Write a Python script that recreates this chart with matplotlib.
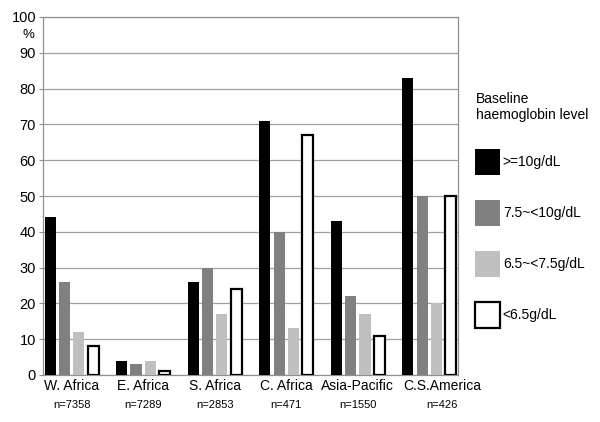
import numpy as np
import matplotlib.pyplot as plt
from matplotlib.transforms import blended_transform_factory

plt.rcParams['font.family'] = ['Liberation Sans', 'DejaVu Sans']

regions = ['W. Africa', 'E. Africa', 'S. Africa', 'C. Africa', 'Asia-Pacific', 'C.S.America']
sample_sizes = ['n=7358', 'n=7289', 'n=2853', 'n=471', 'n=1550', 'n=426']
levels = ['>=10g/dL', '7.5~<10g/dL', '6.5~<7.5g/dL', '<6.5g/dL']

hb_ge10 = [44, 4, 26, 71, 43, 83]
hb_75_10 = [26, 3, 30, 40, 22, 50]
hb_65_75 = [12, 4, 17, 13, 17, 20]
hb_lt65 = [8, 1, 24, 67, 11, 50]

series = [hb_ge10, hb_75_10, hb_65_75, hb_lt65]
face = ['black', '#808080', '#bfbfbf', 'white']
edge = ['black', '#808080', '#bfbfbf', 'black']
lw = [0, 0, 0, 1.6]

fig = plt.figure(figsize=(6, 4.22), dpi=100)
ax = fig.add_axes([43 / 600, 1 - 375 / 422, 415 / 600, 358 / 422])

x = np.arange(len(regions))
width = 0.155
offsets = [-0.3, -0.1, 0.1, 0.3]
for vals, off, fc, ec, w, lab in zip(series, offsets, face, edge, lw, levels):
    ax.bar(x + off, vals, width, color=fc, edgecolor=ec, linewidth=w, label=lab, zorder=3)

ax.set_xlim(-0.4, 5.4)
ax.set_ylim(0, 100)
ax.set_yticks(range(0, 101, 10))
ax.set_xticks([])
ax.yaxis.grid(True, color='#a0a0a0', linewidth=0.9, zorder=0)
for s in ax.spines.values():
    s.set_color('#909090')
    s.set_linewidth(0.9)
ax.tick_params(axis='y', length=3, color='#909090', labelsize=10.5, pad=2)

# category and sample size labels under the axis
trans = blended_transform_factory(ax.transData, ax.transAxes)
shift = [0, 0, 0, 0, 0, 0.18]
for i, (reg, n) in enumerate(zip(regions, sample_sizes)):
    ax.text(i + shift[i], -0.031, reg, transform=trans, ha='center', va='center', fontsize=10)
    ax.text(i + shift[i], -0.085, n, transform=trans, ha='center', va='center', fontsize=8)

fig.text(28 / 600, 1 - 35 / 422, '%', ha='center', va='center', fontsize=9.5)

fig.text(476 / 600, 1 - 107 / 422, 'Baseline\nhaemoglobin level', ha='left', va='center',
         fontsize=10, linespacing=1.25)
ax.legend(loc='upper left', bbox_to_anchor=(475 / 600, 1 - 149 / 422),
          bbox_transform=fig.transFigure, frameon=False, fontsize=10,
          handlelength=1.8, handleheight=2.5, labelspacing=1.8,
          handletextpad=0.2, borderpad=0, borderaxespad=0)

fig.savefig('out.png', dpi=100)
